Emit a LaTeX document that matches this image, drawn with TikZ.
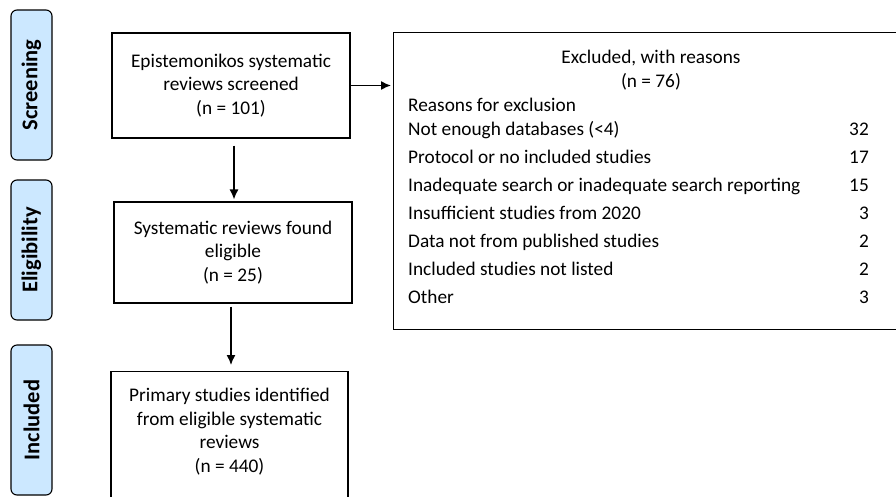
\documentclass[tikz,border=0pt]{standalone}
\usepackage{fontspec}
\setmainfont{Carlito}
\usepackage{tikz}
\usetikzlibrary{arrows.meta}
\definecolor{tabblue}{RGB}{204,232,255}

\begin{document}
\begin{tikzpicture}[x=1pt,y=-1pt]
		\tikzstyle{StageStyle}=[draw,fill=tabblue,rounded corners=6pt,line width=1.1pt,rotate=90,minimum height=41pt,inner sep=0pt,font=\fontsize{22.5}{26}\selectfont\bfseries]
		\tikzstyle{BoxStyle}=[draw,line width=1.1pt,align=center,inner sep=0pt]
		\tikzstyle{TextStyle}=[align=center,inner sep=0pt,font=\fontsize{19.3}{23.5}\selectfont]
		\tikzstyle{RowStyle}=[inner sep=0pt,font=\fontsize{19.3}{23}\selectfont]
		\tikzstyle{EdgeStyle}=[-{Latex[length=10pt,width=9pt]},line width=1.4pt]
		\clip (0,0) rectangle (896,496);
		% stages
		\node[StageStyle,minimum width=150pt] (screening) at (31.5,85) {Screening};
		\node[StageStyle,minimum width=140pt] (eligibility) at (31.5,250) {Eligibility};
		\node[StageStyle,minimum width=150pt] (included) at (31.5,420) {Included};
		% flow boxes
		\node[BoxStyle,TextStyle,minimum width=238pt,minimum height=105pt] (screened) at (231,85.5)
			{Epistemonikos systematic\\reviews screened\\(n = 101)};
		\node[BoxStyle,TextStyle,minimum width=238pt,minimum height=101pt] (eligible) at (233,252.5)
			{Systematic reviews found\\eligible\\(n = 25)};
		\node[BoxStyle,minimum width=237pt,minimum height=135pt,anchor=north] (primary) at (229.5,371) {};
		\node[TextStyle] (primarytext) at (229.5,431.5)
			{Primary studies identified\\from eligible systematic\\reviews\\(n = 440)};
		% exclusions
		\node[BoxStyle,minimum width=515pt,minimum height=297pt,anchor=north west] (excluded) at (393,32) {};
		\node[TextStyle] (exctitle) at (651,70) {Excluded, with reasons\\(n = 76)};
		\node[RowStyle,anchor=base west] (reasons) at (408,111) {Reasons for exclusion};
		\foreach \reason/\num [count=\i] in {Not enough databases (<4)/32,%
				Protocol or no included studies/17,%
				Inadequate search or inadequate search reporting/15,%
				Insufficient studies from 2020/3,%
				Data not from published studies/2,%
				Included studies not listed/2,%
				Other/3}
		{
			\node[RowStyle,anchor=base west] (reason\i) at (408,{107+28*\i}) {\reason};
			\node[RowStyle,anchor=base east] (count\i) at (869,{107+28*\i}) {\num};
		}
		% edges
		\draw[EdgeStyle,shorten >=2pt] (screened.east) -- (screened.east -| excluded.west);
		\draw[EdgeStyle,shorten <=7pt,shorten >=2pt] ([xshift=3pt]screened.south) -- ([xshift=1pt]eligible.north);
		\draw[EdgeStyle,shorten <=3pt,shorten >=6pt] ([xshift=-2pt]eligible.south) -- ([xshift=1.5pt]primary.north);
	\end{tikzpicture}
\end{document}
